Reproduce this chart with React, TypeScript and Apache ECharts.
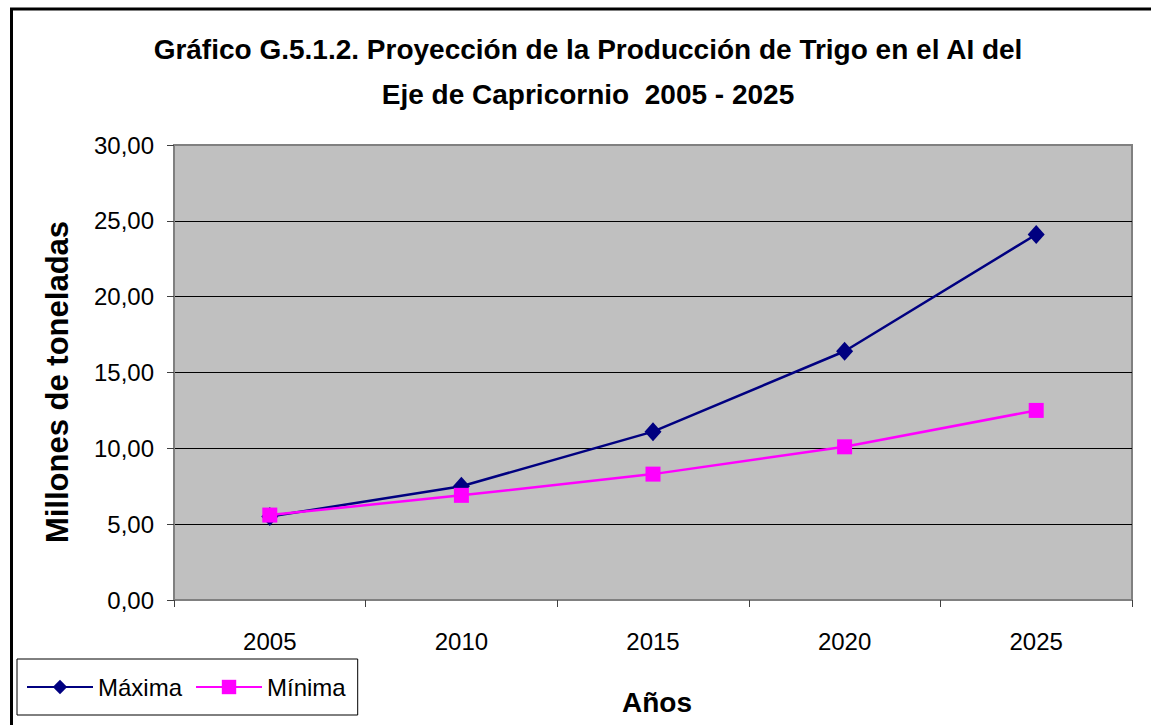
import React, { useEffect, useRef } from "react";
import * as echarts from "echarts";

const years = ["2005", "2010", "2015", "2020", "2025"];
const maxima = [5.5, 7.5, 11.1, 16.4, 24.1];
const minima = [5.6, 6.9, 8.3, 10.1, 12.5];
const titleLines = [
  "Gráfico G.5.1.2. Proyección de la Producción de Trigo en el AI del",
  "Eje de Capricornio  2005 - 2025",
];
const yTitle = "Millones de toneladas";
const xTitle = "Años";

export default function App() {
  const ref = useRef<HTMLDivElement>(null);
  useEffect(() => {
    if (!ref.current) return;
    const chart = echarts.init(ref.current, null, { renderer: "svg" });
    const sans = "'Liberation Sans', Arial, sans-serif";
    chart.setOption({
      animation: false,
      backgroundColor: "#ffffff",
      title: {
        text: titleLines.join("\n"),
        left: 583,
        textAlign: "center",
        top: 22,
        textStyle: {
          fontFamily: sans,
          fontWeight: "bold",
          fontSize: 28,
          lineHeight: 45,
          color: "#000",
        },
      },
      graphic: [
        {
          type: "rect",
          shape: { x: 11.5, y: 9, width: 1300, height: 900 },
          style: { fill: "none", stroke: "#000", lineWidth: 3 },
          silent: true,
        },
      ],
      legend: {
        left: 17,
        top: 659,
        orient: "horizontal",
        padding: [16, 12, 16, 9],
        itemWidth: 66,
        itemHeight: 18,
        itemGap: 13,
        borderColor: "#000",
        borderWidth: 1,
        backgroundColor: "#fff",
        textStyle: { fontFamily: sans, fontSize: 24, color: "#000" },
        data: ["Máxima", "Mínima"],
      },
      grid: {
        left: 174,
        top: 145,
        right: 19,
        bottom: 125,
        show: true,
        backgroundColor: "#C0C0C0",
        borderColor: "#808080",
        borderWidth: 2,
      },
      xAxis: {
        type: "category",
        data: years,
        boundaryGap: true,
        name: xTitle,
        nameLocation: "middle",
        nameGap: 88,
        nameTextStyle: { fontFamily: sans, fontWeight: "bold", fontSize: 28, color: "#000", padding: [0, 0, 0, 8] },
        axisLine: { lineStyle: { color: "#808080", width: 2 } },
        axisTick: { show: true, alignWithLabel: false, length: 7, lineStyle: { color: "#404040", width: 1 } },
        axisLabel: { fontFamily: sans, fontSize: 24, color: "#000", margin: 29 },
        splitLine: { show: false },
      },
      yAxis: {
        type: "value",
        min: 0,
        max: 30,
        interval: 5,
        name: yTitle,
        nameLocation: "middle",
        nameRotate: 90,
        nameGap: 101,
        nameTextStyle: {
          fontFamily: sans,
          fontWeight: "bold",
          fontSize: 31,
          color: "#000",
          padding: [0, 19, 0, 0],
        },
        axisLine: { show: true, lineStyle: { color: "#808080", width: 2 } },
        axisTick: { show: true, length: 7, lineStyle: { color: "#404040", width: 1 } },
        axisLabel: {
          fontFamily: sans,
          fontSize: 24,
          color: "#000",
          margin: 20,
          formatter: (v: number) => v.toFixed(2).replace(".", ","),
        },
        splitLine: {
          show: true,
          lineStyle: {
            color: ["#000", "#000", "#000", "#000", "#000", "#000", "#808080"],
            width: 1,
          },
        },
      },
      series: [
        {
          name: "Máxima",
          type: "line",
          data: maxima,
          symbol: "diamond",
          symbolSize: [17, 19],
          lineStyle: { color: "#000080", width: 2.5 },
          itemStyle: { color: "#000080" },
          z: 2,
        },
        {
          name: "Mínima",
          type: "line",
          data: minima,
          symbol: "rect",
          symbolSize: 15,
          lineStyle: { color: "#FF00FF", width: 2.5 },
          itemStyle: { color: "#FF00FF" },
          z: 3,
        },
      ],
    });
    return () => chart.dispose();
  }, []);
  return (
    <div
      ref={ref}
      style={{ position: "fixed", left: 0, top: 0, width: 1151, height: 725 }}
    />
  );
}
